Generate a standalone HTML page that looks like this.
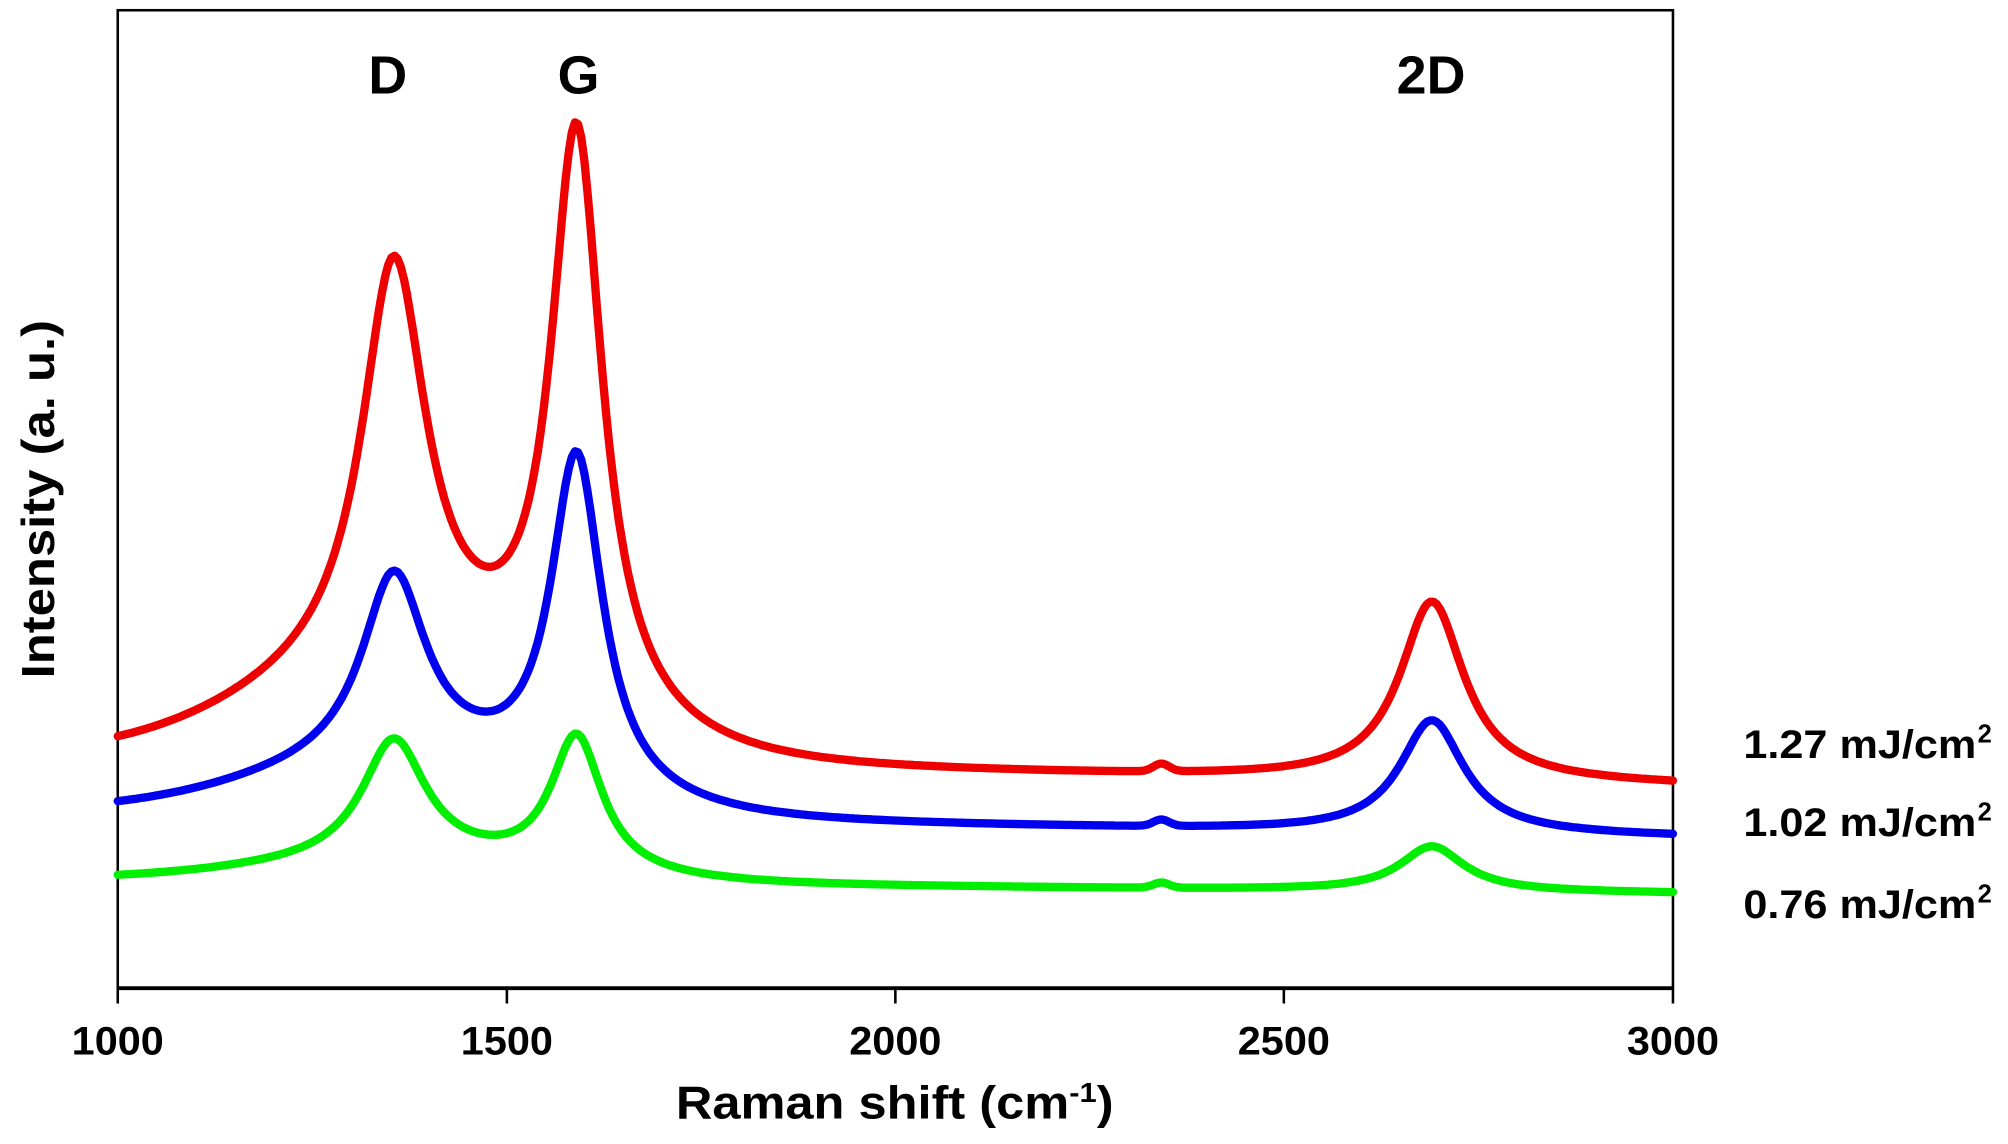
<!DOCTYPE html>
<html><head><meta charset="utf-8"><style>
html,body{margin:0;padding:0;background:#fff;}
svg{display:block;}
text{font-family:"Liberation Sans",Arial,sans-serif;font-weight:bold;fill:#000;}
</style></head><body>
<svg id="s" width="2008" height="1144" viewBox="0 0 1568.75 893.75" xmlns="http://www.w3.org/2000/svg">
<rect x="92" y="8" width="1215" height="764" fill="none" stroke="#000" stroke-width="2"/>
<line x1="92" y1="772" x2="1307" y2="772" stroke="#000" stroke-width="3"/>
<g stroke="#000" stroke-width="2">
<line x1="92" y1="772" x2="92" y2="784"/><line x1="396" y1="772" x2="396" y2="784"/>
<line x1="699.5" y1="772" x2="699.5" y2="784"/><line x1="1003" y1="772" x2="1003" y2="784"/>
<line x1="1307" y1="772" x2="1307" y2="784"/>
</g>
<g font-size="31" text-anchor="middle">
<text x="92" y="824" textLength="72" lengthAdjust="spacingAndGlyphs">1000</text>
<text x="396" y="824" textLength="72" lengthAdjust="spacingAndGlyphs">1500</text>
<text x="699.5" y="824" textLength="72" lengthAdjust="spacingAndGlyphs">2000</text>
<text x="1003" y="824" textLength="72" lengthAdjust="spacingAndGlyphs">2500</text>
<text x="1307" y="824" textLength="72" lengthAdjust="spacingAndGlyphs">3000</text>
</g>
<text x="528" y="874" font-size="36" textLength="342" lengthAdjust="spacingAndGlyphs">Raman shift (cm<tspan font-size="22" dy="-13">-1</tspan><tspan dy="13">)</tspan></text>
<text transform="translate(42,390) rotate(-90)" font-size="36" text-anchor="middle" textLength="280" lengthAdjust="spacingAndGlyphs">Intensity (a. u.)</text>
<g font-size="42" text-anchor="middle">
<text x="303" y="73">D</text><text x="452" y="73">G</text><text x="1118" y="73">2D</text>
</g>
<g font-size="31">
<text x="1362" y="592" textLength="182" lengthAdjust="spacingAndGlyphs">1.27 mJ/cm</text><text x="1545" y="580" font-size="20">2</text>
<text x="1362" y="653" textLength="182" lengthAdjust="spacingAndGlyphs">1.02 mJ/cm</text><text x="1545" y="641" font-size="20">2</text>
<text x="1362" y="717" textLength="182" lengthAdjust="spacingAndGlyphs">0.76 mJ/cm</text><text x="1545" y="705" font-size="20">2</text>
</g>
<g id="curves" fill="none" stroke-width="6.5" stroke-linejoin="round" stroke-linecap="round"></g>
</svg>
<script>
function L(w,c,g){var d=(w-c)/g;return 1/(1+d*d);}
function G(w,c,s){var d=(w-c)/s;return Math.exp(-d*d/2);}
var series=[
 {col:"#00ee00",b0:688,b1:10,D:95,G:106,T:35,br:15,bump:4},
 {col:"#0000ee",b0:636,b1:18,D:146,G:262,T:88,br:40,bump:5},
 {col:"#ee0000",b0:594,b1:20,D:315,G:455,T:140,br:70,bump:6}
];
var g=document.getElementById("curves");
series.forEach(function(s){
 var p=[];
 for(var w=1000;w<=3000;w+=4){
  var y=s.b0+s.b1*(w-1000)/2000
   -s.D*L(w,1355,50)-s.G*L(w,1590,40)-s.T*L(w,2690,50)-s.br*G(w,1370,190);
  y-=s.bump*G(w,2342,10);
  var x=92+(w-1000)*0.6075;
  p.push(x.toFixed(1)+","+y.toFixed(1));
 }
 var e=document.createElementNS("http://www.w3.org/2000/svg","polyline");
 e.setAttribute("points",p.join(" "));e.setAttribute("stroke",s.col);
 g.appendChild(e);
});
</script>
</body></html>
